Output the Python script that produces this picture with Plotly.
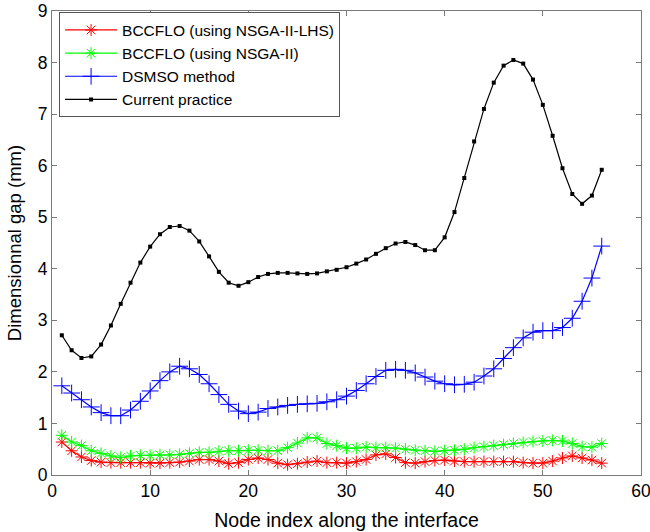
import plotly.graph_objects as go

node_index = list(range(1, 57))

bccflo_lhs = [0.64, 0.47, 0.35, 0.28, 0.25, 0.24, 0.24, 0.24, 0.24, 0.23,
              0.23, 0.24, 0.25, 0.27, 0.30, 0.30, 0.27, 0.22, 0.24, 0.30,
              0.33, 0.30, 0.23, 0.20, 0.22, 0.25, 0.27, 0.24, 0.24, 0.23,
              0.26, 0.30, 0.39, 0.41, 0.34, 0.24, 0.23, 0.26, 0.28, 0.29,
              0.27, 0.26, 0.26, 0.26, 0.26, 0.26, 0.26, 0.24, 0.23, 0.23,
              0.27, 0.33, 0.37, 0.33, 0.29, 0.23]

bccflo_nsga = [0.77, 0.64, 0.57, 0.47, 0.42, 0.37, 0.34, 0.37, 0.38, 0.38,
               0.39, 0.39, 0.40, 0.42, 0.44, 0.44, 0.46, 0.47, 0.47, 0.48,
               0.48, 0.47, 0.47, 0.53, 0.62, 0.72, 0.72, 0.61, 0.57, 0.52,
               0.52, 0.54, 0.53, 0.53, 0.52, 0.50, 0.48, 0.47, 0.46, 0.47,
               0.48, 0.50, 0.53, 0.55, 0.57, 0.59, 0.61, 0.63, 0.65, 0.66,
               0.67, 0.66, 0.61, 0.55, 0.54, 0.61]

dsmso = [1.73, 1.59, 1.46, 1.32, 1.21, 1.15, 1.15, 1.26, 1.43, 1.63,
         1.83, 2.00, 2.11, 2.06, 1.95, 1.77, 1.56, 1.37, 1.24, 1.19,
         1.22, 1.29, 1.32, 1.35, 1.37, 1.38, 1.39, 1.42, 1.46, 1.53,
         1.64, 1.77, 1.91, 2.03, 2.05, 2.03, 1.98, 1.90, 1.82, 1.77,
         1.75, 1.76, 1.80, 1.92, 2.06, 2.26, 2.47, 2.66, 2.77, 2.80,
         2.80, 2.86, 3.04, 3.37, 3.82, 4.44]

current = [2.71, 2.42, 2.27, 2.30, 2.53, 2.90, 3.32, 3.73, 4.12, 4.43,
           4.67, 4.81, 4.83, 4.74, 4.53, 4.24, 3.94, 3.73, 3.67, 3.74,
           3.84, 3.90, 3.92, 3.92, 3.91, 3.90, 3.91, 3.95, 3.98, 4.03,
           4.10, 4.18, 4.29, 4.40, 4.49, 4.52, 4.46, 4.36, 4.36, 4.61,
           5.10, 5.76, 6.47, 7.10, 7.61, 7.94, 8.05, 7.98, 7.67, 7.18,
           6.58, 5.95, 5.45, 5.26, 5.42, 5.92]

x_ticks = [0, 10, 20, 30, 40, 50, 60]
y_ticks = [0, 1, 2, 3, 4, 5, 6, 7, 8, 9]

FONT = "Liberation Sans, Arial, Helvetica, sans-serif"

fig = go.Figure()
fig.add_trace(go.Scatter(
    x=node_index, y=bccflo_lhs, mode="lines+markers",
    name="BCCFLO (using NSGA-II-LHS)",
    line=dict(color="#ff0000", width=1.2),
    marker=dict(symbol="asterisk-open", size=10, color="#ff0000",
                line=dict(color="#ff0000", width=1))))
fig.add_trace(go.Scatter(
    x=node_index, y=bccflo_nsga, mode="lines+markers",
    name="BCCFLO (using NSGA-II)",
    line=dict(color="#00ff00", width=1.2),
    marker=dict(symbol="asterisk-open", size=10, color="#00ff00",
                line=dict(color="#00ff00", width=1))))
fig.add_trace(go.Scatter(
    x=node_index, y=dsmso, mode="lines+markers",
    name="DSMSO method",
    line=dict(color="#0000ff", width=1.2),
    marker=dict(symbol="cross-thin-open", size=12, color="#0000ff",
                line=dict(color="#0000ff", width=1))))
fig.add_trace(go.Scatter(
    x=node_index, y=current, mode="lines+markers",
    name="Current practice",
    line=dict(color="#000000", width=1.2),
    marker=dict(symbol="square", size=4, color="#000000")))

axis_common = dict(
    showgrid=False, zeroline=False, showline=True, mirror="ticks",
    linecolor="#7a7a7a", linewidth=1, ticks="inside", ticklen=5,
    tickcolor="#7a7a7a", tickfont=dict(family=FONT, size=17.5, color="#000"),
    automargin=False, ticklabeloverflow="allow",
)

fig.update_layout(
    width=650, height=532,
    margin=dict(l=52, r=9, t=11, b=57),
    paper_bgcolor="white", plot_bgcolor="white",
    font=dict(family=FONT, color="#000"),
    xaxis=dict(range=[0, 60], tickvals=x_ticks,
               title=dict(text="Node index along the interface",
                          font=dict(family=FONT, size=19.5), standoff=13),
               **axis_common),
    yaxis=dict(range=[0, 9], tickvals=y_ticks,
               title=dict(text="Dimensionnal gap (mm)",
                          font=dict(family=FONT, size=18.5), standoff=11),
               **axis_common),
    legend=dict(x=0.012, y=0.997, xanchor="left", yanchor="top",
                bgcolor="white", bordercolor="#555", borderwidth=1,
                font=dict(family=FONT, size=15.5, color="#000"),
                tracegroupgap=0, itemwidth=52),
    showlegend=True,
)

fig.write_html("out.html")
